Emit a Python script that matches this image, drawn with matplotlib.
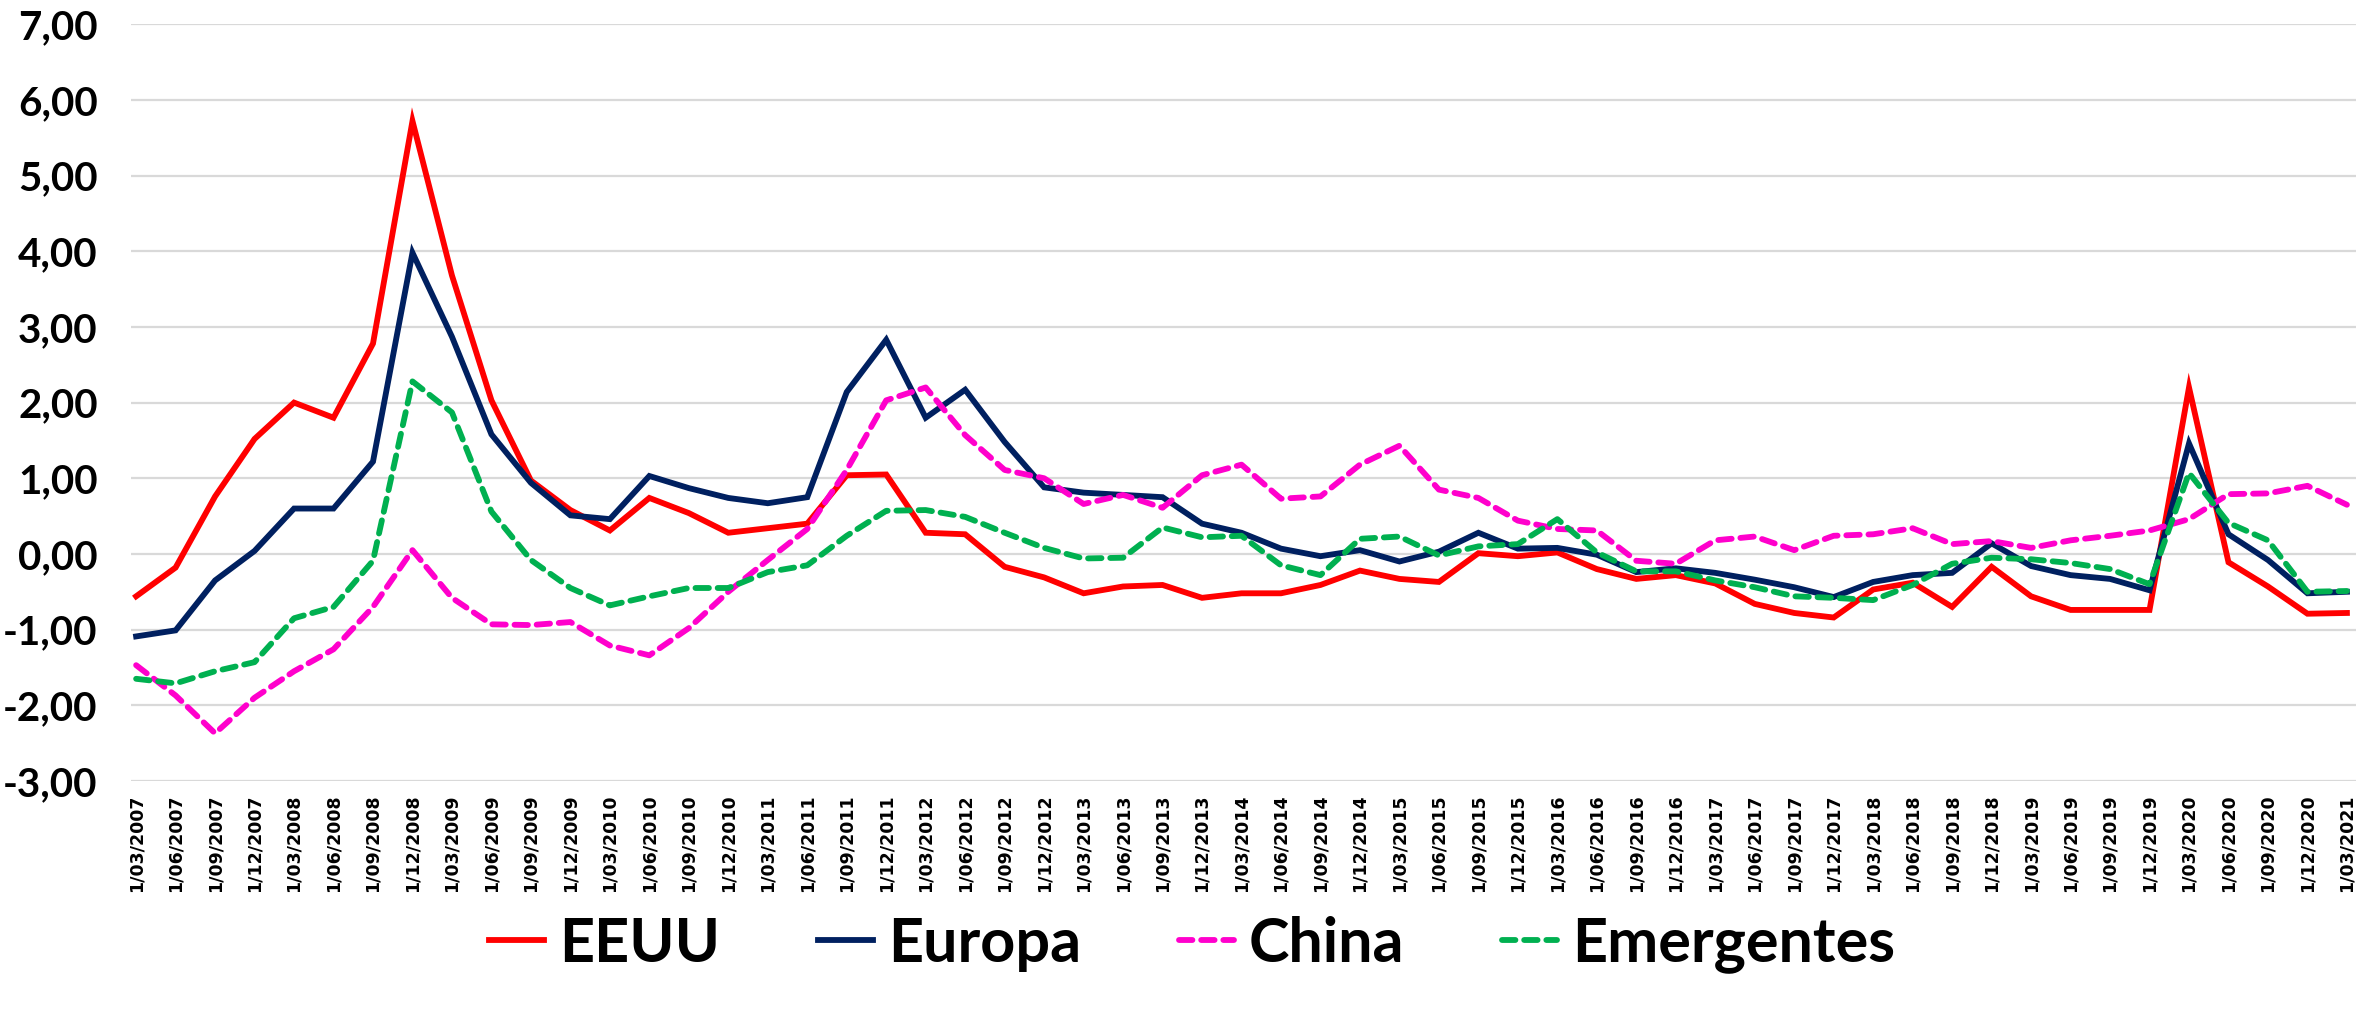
import matplotlib
matplotlib.use("Agg")
import matplotlib.pyplot as plt
import numpy as np

# quarterly dates, 1/03/2007 .. 1/03/2021
fechas = []
for y in range(2007, 2022):
    for m in ["03", "06", "09", "12"]:
        if y == 2021 and m != "03":
            continue
        fechas.append("1/" + m + "/" + str(y))

eeuu = [-0.56, -0.18, 0.76, 1.52, 2.00, 1.80, 2.78, 5.72, 3.68, 2.03,
        0.97, 0.58, 0.31, 0.74, 0.54, 0.28, 0.34, 0.40, 1.04, 1.05,
        0.28, 0.26, -0.17, -0.31, -0.52, -0.43, -0.41, -0.58, -0.52, -0.52,
        -0.41, -0.22, -0.33, -0.37, 0.01, -0.03, 0.02, -0.20, -0.33, -0.28,
        -0.39, -0.66, -0.78, -0.84, -0.47, -0.38, -0.70, -0.17, -0.56, -0.74,
        -0.74, -0.74, 2.20, -0.11, -0.43, -0.79, -0.78]
europa = [-1.09, -1.01, -0.35, 0.04, 0.60, 0.60, 1.22, 3.98, 2.87, 1.58,
          0.94, 0.51, 0.46, 1.03, 0.87, 0.74, 0.67, 0.75, 2.14, 2.83,
          1.80, 2.17, 1.48, 0.88, 0.81, 0.78, 0.75, 0.40, 0.28, 0.07,
          -0.03, 0.05, -0.10, 0.03, 0.28, 0.07, 0.08, -0.01, -0.24, -0.19,
          -0.25, -0.34, -0.44, -0.57, -0.37, -0.28, -0.25, 0.14, -0.16, -0.28,
          -0.33, -0.48, 1.46, 0.26, -0.08, -0.52, -0.50]
china = [-1.47, -1.87, -2.37, -1.90, -1.55, -1.26, -0.70, 0.05, -0.58, -0.93,
         -0.94, -0.90, -1.21, -1.34, -0.98, -0.50, -0.08, 0.33, 1.11, 2.03,
         2.20, 1.57, 1.11, 1.00, 0.66, 0.78, 0.61, 1.04, 1.18, 0.73,
         0.76, 1.18, 1.43, 0.85, 0.74, 0.44, 0.33, 0.31, -0.09, -0.13,
         0.18, 0.23, 0.05, 0.24, 0.26, 0.34, 0.13, 0.17, 0.08, 0.18,
         0.24, 0.31, 0.46, 0.79, 0.80, 0.90, 0.65]
emergentes = [-1.65, -1.71, -1.55, -1.43, -0.85, -0.70, -0.09, 2.28, 1.87, 0.56,
              -0.08, -0.45, -0.68, -0.56, -0.45, -0.45, -0.24, -0.15, 0.24, 0.57,
              0.58, 0.49, 0.28, 0.08, -0.06, -0.05, 0.35, 0.22, 0.24, -0.15,
              -0.28, 0.20, 0.23, -0.02, 0.10, 0.13, 0.46, 0.02, -0.23, -0.23,
              -0.35, -0.44, -0.56, -0.58, -0.61, -0.41, -0.13, -0.05, -0.07, -0.12,
              -0.20, -0.40, 1.07, 0.41, 0.18, -0.50, -0.49]

yticks = [-3, -2, -1, 0, 1, 2, 3, 4, 5, 6, 7]

fuente = ['Lato', 'DejaVu Sans']

fig = plt.figure(figsize=(23.56, 10.09), dpi=100)
ax = fig.add_axes([0.0556, 0.226, 0.9444, 0.750])

x = np.arange(len(fechas))
lw = 4.2
ax.plot(x, eeuu, color='#FF0000', lw=lw, label='EEUU', solid_joinstyle='miter')
ax.plot(x, europa, color='#002060', lw=lw, label='Europa', solid_joinstyle='miter')
ax.plot(x, china, color='#FF00CC', lw=lw, ls=(0, (2.3, 1.5)), dash_capstyle='round', label='China')
ax.plot(x, emergentes, color='#00B050', lw=lw, ls=(0, (2.3, 1.5)), dash_capstyle='round', label='Emergentes')

ax.set_xlim(-0.13, len(fechas) - 1 + 0.23)
ax.set_ylim(-3, 7)
ax.set_yticks(yticks)
ax.set_yticklabels([("%.2f" % v).replace('.', ',') for v in yticks],
                   family=fuente, fontweight='bold', fontsize=29)
ax.set_xticks(x)
ax.set_xticklabels(fechas, rotation=90, family='DejaVu Sans', fontweight='bold', fontsize=12.5)
ax.tick_params(length=0)
ax.tick_params(axis='y', pad=24)
ax.tick_params(axis='x', pad=10)
ax.grid(axis='y', color='#D9D9D9', lw=1.6)
ax.set_axisbelow(True)
for s in ax.spines.values():
    s.set_visible(False)

fig.legend(loc='center', bbox_to_anchor=(0.506, 0.064), ncol=4, frameon=False,
           prop={'family': fuente, 'weight': 'bold', 'size': 44},
           handlelength=0.9, handletextpad=0.25, columnspacing=1.6)

fig.savefig('out.png', dpi=100)
